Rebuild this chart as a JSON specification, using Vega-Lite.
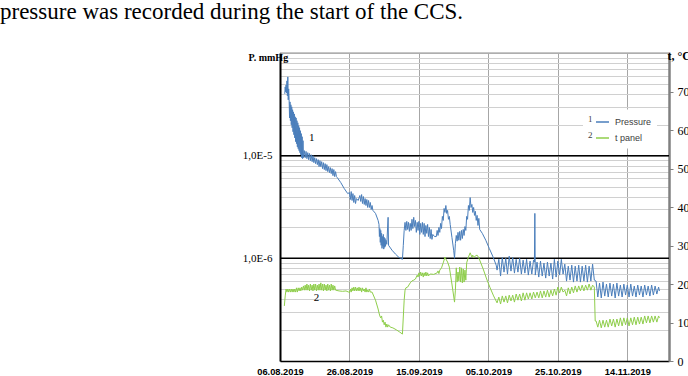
{
  "$schema": "https://vega.github.io/schema/vega-lite/v6.json",
  "width": 389,
  "height": 308,
  "autosize": {"type": "none"},
  "padding": {"left": 280, "top": 53, "right": 19, "bottom": 15},
  "background": "white",
  "title": {
    "text": "pressure was recorded during the start of the CCS.",
    "anchor": "start",
    "frame": "group",
    "dx": -280,
    "offset": 5,
    "baseline": "alphabetic",
    "font": "Liberation Serif",
    "fontSize": 23,
    "fontWeight": "normal",
    "color": "#000000"
  },
  "config": {"view": {"stroke": null}},
  "datasets": {
    "press": [
      {"t":"2019-08-07T09:00","v":4.00e-5},{"t":"2019-08-07T12:00","v":4.67e-5},{"t":"2019-08-07T15:00","v":4.19e-5},{"t":"2019-08-07T18:00","v":4.89e-5},{"t":"2019-08-07T21:00","v":4.09e-5},
      {"t":"2019-08-08T00:00","v":5.35e-5},{"t":"2019-08-08T03:00","v":3.83e-5},{"t":"2019-08-08T06:00","v":5.85e-5},{"t":"2019-08-08T09:00","v":3.50e-5},{"t":"2019-08-08T12:00","v":4.47e-5},
      {"t":"2019-08-08T15:00","v":3.50e-5},{"t":"2019-08-08T18:00","v":2.33e-5},{"t":"2019-08-08T21:00","v":3.34e-5},
      {"t":"2019-08-09T00:00","v":2.19e-5},{"t":"2019-08-09T03:00","v":3.13e-5},{"t":"2019-08-09T06:00","v":2.00e-5},{"t":"2019-08-09T09:00","v":2.99e-5},{"t":"2019-08-09T12:00","v":1.87e-5},{"t":"2019-08-09T15:00","v":2.80e-5},{"t":"2019-08-09T18:00","v":1.71e-5},{"t":"2019-08-09T21:00","v":2.67e-5},
      {"t":"2019-08-10T00:00","v":1.60e-5},{"t":"2019-08-10T03:00","v":2.55e-5},{"t":"2019-08-10T06:00","v":1.49e-5},{"t":"2019-08-10T09:00","v":2.39e-5},{"t":"2019-08-10T12:00","v":1.37e-5},{"t":"2019-08-10T15:00","v":2.33e-5},{"t":"2019-08-10T18:00","v":1.31e-5},{"t":"2019-08-10T21:00","v":2.19e-5},
      {"t":"2019-08-11T00:00","v":1.22e-5},{"t":"2019-08-11T03:00","v":2.09e-5},{"t":"2019-08-11T06:00","v":1.17e-5},{"t":"2019-08-11T09:00","v":1.96e-5},{"t":"2019-08-11T12:00","v":1.12e-5},{"t":"2019-08-11T15:00","v":1.87e-5},{"t":"2019-08-11T18:00","v":1.07e-5},{"t":"2019-08-11T21:00","v":1.75e-5},
      {"t":"2019-08-12T00:00","v":1.02e-5},{"t":"2019-08-12T03:00","v":1.64e-5},{"t":"2019-08-12T06:00","v":9.56e-6},{"t":"2019-08-12T09:00","v":1.53e-5},{"t":"2019-08-12T12:00","v":9.35e-6},{"t":"2019-08-12T15:00","v":1.40e-5},{"t":"2019-08-12T18:00","v":9.56e-6},
      {"t":"2019-08-13T00:00","v":1.12e-5},{"t":"2019-08-13T06:00","v":9.56e-6},{"t":"2019-08-13T12:00","v":1.10e-5},{"t":"2019-08-13T18:00","v":9.35e-6},
      {"t":"2019-08-14T00:00","v":1.07e-5},{"t":"2019-08-14T06:00","v":9.14e-6},{"t":"2019-08-14T12:00","v":1.05e-5},{"t":"2019-08-14T18:00","v":8.94e-6},
      {"t":"2019-08-15T00:00","v":1.02e-5},{"t":"2019-08-15T06:00","v":8.74e-6},{"t":"2019-08-15T12:00","v":1.00e-5},{"t":"2019-08-15T18:00","v":8.55e-6},
      {"t":"2019-08-16T00:00","v":9.56e-6},{"t":"2019-08-16T06:00","v":8.36e-6},{"t":"2019-08-16T12:00","v":9.35e-6},{"t":"2019-08-16T18:00","v":8.18e-6},
      {"t":"2019-08-17T00:00","v":9.14e-6},{"t":"2019-08-17T06:00","v":7.82e-6},{"t":"2019-08-17T12:00","v":8.94e-6},{"t":"2019-08-17T18:00","v":7.82e-6},
      {"t":"2019-08-18T00:00","v":8.74e-6},{"t":"2019-08-18T06:00","v":7.48e-6},{"t":"2019-08-18T12:00","v":8.55e-6},{"t":"2019-08-18T18:00","v":7.32e-6},
      {"t":"2019-08-19T00:00","v":8.36e-6},{"t":"2019-08-19T06:00","v":7.15e-6},{"t":"2019-08-19T12:00","v":8.18e-6},{"t":"2019-08-19T18:00","v":6.99e-6},
      {"t":"2019-08-20T00:00","v":7.82e-6},{"t":"2019-08-20T06:00","v":6.84e-6},{"t":"2019-08-20T12:00","v":7.65e-6},{"t":"2019-08-20T18:00","v":6.69e-6},
      {"t":"2019-08-21T00:00","v":7.48e-6},{"t":"2019-08-21T06:00","v":6.39e-6},{"t":"2019-08-21T12:00","v":7.32e-6},{"t":"2019-08-21T18:00","v":6.25e-6},
      {"t":"2019-08-22T00:00","v":6.99e-6},{"t":"2019-08-22T06:00","v":6.25e-6},{"t":"2019-08-22T12:00","v":6.11e-6},
      {"t":"2019-08-23T12:00","v":5.47e-6},{"t":"2019-08-24T12:00","v":4.78e-6},{"t":"2019-08-25T12:00","v":4.27e-6},
      {"t":"2019-08-26T00:00","v":4.37e-6},{"t":"2019-08-26T06:00","v":3.74e-6},{"t":"2019-08-26T12:00","v":4.47e-6},{"t":"2019-08-26T18:00","v":3.66e-6},
      {"t":"2019-08-27T00:00","v":4.27e-6},{"t":"2019-08-27T06:00","v":3.50e-6},{"t":"2019-08-27T12:00","v":4.09e-6},{"t":"2019-08-27T18:00","v":3.42e-6},
      {"t":"2019-08-28T00:00","v":3.82e-6},{"t":"2019-08-28T12:00","v":3.66e-6},
      {"t":"2019-08-29T00:00","v":4.09e-6},{"t":"2019-08-29T06:00","v":3.58e-6},{"t":"2019-08-29T12:00","v":4.18e-6},{"t":"2019-08-29T18:00","v":3.42e-6},
      {"t":"2019-08-30T00:00","v":4.00e-6},{"t":"2019-08-30T06:00","v":3.35e-6},{"t":"2019-08-30T12:00","v":3.82e-6},{"t":"2019-08-30T18:00","v":3.27e-6},
      {"t":"2019-08-31T00:00","v":3.74e-6},{"t":"2019-08-31T06:00","v":3.13e-6},{"t":"2019-08-31T12:00","v":3.66e-6},{"t":"2019-08-31T18:00","v":3.13e-6},
      {"t":"2019-09-01T00:00","v":3.50e-6},{"t":"2019-09-01T06:00","v":2.99e-6},{"t":"2019-09-01T12:00","v":3.27e-6},{"t":"2019-09-01T18:00","v":2.93e-6},
      {"t":"2019-09-02T12:00","v":2.74e-6},{"t":"2019-09-03T06:00","v":2.34e-6},
      {"t":"2019-09-03T12:00","v":2.14e-6},{"t":"2019-09-03T15:00","v":1.63e-6},{"t":"2019-09-03T18:00","v":1.95e-6},{"t":"2019-09-03T21:00","v":1.43e-6},
      {"t":"2019-09-04T00:00","v":1.87e-6},{"t":"2019-09-04T03:00","v":1.34e-6},{"t":"2019-09-04T06:00","v":1.75e-6},{"t":"2019-09-04T09:00","v":1.25e-6},{"t":"2019-09-04T12:00","v":1.63e-6},{"t":"2019-09-04T15:00","v":1.31e-6},{"t":"2019-09-04T18:00","v":1.71e-6},{"t":"2019-09-04T21:00","v":1.23e-6},
      {"t":"2019-09-05T00:00","v":1.60e-6},{"t":"2019-09-05T03:00","v":1.28e-6},{"t":"2019-09-05T06:00","v":1.56e-6},{"t":"2019-09-05T09:00","v":1.31e-6},{"t":"2019-09-05T12:00","v":1.50e-6},{"t":"2019-09-05T18:00","v":1.37e-6},
      {"t":"2019-09-06T03:00","v":2.51e-6},{"t":"2019-09-06T06:00","v":1.34e-6},
      {"t":"2019-09-07T06:00","v":1.20e-6},{"t":"2019-09-08T06:00","v":1.10e-6},{"t":"2019-09-09T06:00","v":1.02e-6},{"t":"2019-09-09T18:00","v":1.00e-6},{"t":"2019-09-10T06:00","v":9.78e-7},
      {"t":"2019-09-10T12:00","v":1.34e-6},{"t":"2019-09-10T18:00","v":1.87e-6},
      {"t":"2019-09-11T00:00","v":2.24e-6},{"t":"2019-09-11T06:00","v":1.87e-6},{"t":"2019-09-11T12:00","v":2.29e-6},{"t":"2019-09-11T18:00","v":1.91e-6},
      {"t":"2019-09-12T00:00","v":2.24e-6},{"t":"2019-09-12T06:00","v":1.83e-6},{"t":"2019-09-12T12:00","v":2.19e-6},{"t":"2019-09-12T18:00","v":1.87e-6},
      {"t":"2019-09-13T00:00","v":2.40e-6},{"t":"2019-09-13T06:00","v":1.95e-6},{"t":"2019-09-13T12:00","v":2.51e-6},{"t":"2019-09-13T18:00","v":2.04e-6},
      {"t":"2019-09-14T00:00","v":2.34e-6},{"t":"2019-09-14T06:00","v":1.79e-6},{"t":"2019-09-14T12:00","v":2.24e-6},{"t":"2019-09-14T18:00","v":1.87e-6},
      {"t":"2019-09-15T00:00","v":2.29e-6},{"t":"2019-09-15T06:00","v":1.71e-6},{"t":"2019-09-15T12:00","v":2.19e-6},{"t":"2019-09-15T18:00","v":1.79e-6},
      {"t":"2019-09-16T00:00","v":2.24e-6},{"t":"2019-09-16T06:00","v":1.71e-6},{"t":"2019-09-16T12:00","v":2.19e-6},{"t":"2019-09-16T18:00","v":1.63e-6},
      {"t":"2019-09-17T00:00","v":2.09e-6},{"t":"2019-09-17T06:00","v":1.75e-6},{"t":"2019-09-17T12:00","v":2.14e-6},{"t":"2019-09-17T18:00","v":1.63e-6},
      {"t":"2019-09-18T00:00","v":2.00e-6},{"t":"2019-09-18T06:00","v":1.56e-6},{"t":"2019-09-18T12:00","v":1.91e-6},{"t":"2019-09-18T18:00","v":1.53e-6},
      {"t":"2019-09-19T00:00","v":1.71e-6},{"t":"2019-09-19T12:00","v":1.63e-6},
      {"t":"2019-09-20T00:00","v":1.63e-6},{"t":"2019-09-20T06:00","v":1.87e-6},{"t":"2019-09-20T12:00","v":1.67e-6},{"t":"2019-09-20T18:00","v":2.00e-6},
      {"t":"2019-09-21T00:00","v":1.79e-6},{"t":"2019-09-21T06:00","v":2.19e-6},{"t":"2019-09-21T12:00","v":1.95e-6},{"t":"2019-09-21T18:00","v":2.56e-6},
      {"t":"2019-09-22T00:00","v":2.34e-6},{"t":"2019-09-22T06:00","v":3.06e-6},{"t":"2019-09-22T12:00","v":2.80e-6},{"t":"2019-09-22T18:00","v":3.27e-6},
      {"t":"2019-09-23T00:00","v":2.74e-6},{"t":"2019-09-23T06:00","v":2.93e-6},{"t":"2019-09-23T12:00","v":2.40e-6},{"t":"2019-09-23T18:00","v":2.56e-6},
      {"t":"2019-09-24T00:00","v":2.14e-6},{"t":"2019-09-24T12:00","v":1.60e-6},
      {"t":"2019-09-25T00:00","v":1.20e-6},{"t":"2019-09-25T06:00","v":1.00e-6},{"t":"2019-09-25T12:00","v":1.40e-6},{"t":"2019-09-25T18:00","v":1.67e-6},
      {"t":"2019-09-26T00:00","v":1.47e-6},{"t":"2019-09-26T06:00","v":1.79e-6},{"t":"2019-09-26T12:00","v":1.50e-6},{"t":"2019-09-26T18:00","v":1.83e-6},
      {"t":"2019-09-27T00:00","v":1.50e-6},{"t":"2019-09-27T06:00","v":1.87e-6},{"t":"2019-09-27T12:00","v":1.56e-6},{"t":"2019-09-27T18:00","v":1.91e-6},
      {"t":"2019-09-28T00:00","v":1.67e-6},{"t":"2019-09-28T06:00","v":2.04e-6},{"t":"2019-09-28T12:00","v":1.87e-6},{"t":"2019-09-28T18:00","v":2.56e-6},
      {"t":"2019-09-29T00:00","v":2.40e-6},{"t":"2019-09-29T06:00","v":3.27e-6},{"t":"2019-09-29T12:00","v":2.93e-6},{"t":"2019-09-29T18:00","v":3.91e-6},
      {"t":"2019-09-30T00:00","v":3.13e-6},{"t":"2019-09-30T06:00","v":3.35e-6},{"t":"2019-09-30T12:00","v":2.80e-6},{"t":"2019-09-30T18:00","v":3.13e-6},
      {"t":"2019-10-01T00:00","v":2.62e-6},{"t":"2019-10-01T06:00","v":2.87e-6},{"t":"2019-10-01T12:00","v":2.34e-6},{"t":"2019-10-01T18:00","v":2.62e-6},
      {"t":"2019-10-02T00:00","v":2.09e-6},{"t":"2019-10-02T06:00","v":2.45e-6},{"t":"2019-10-02T12:00","v":1.91e-6},
      {"t":"2019-10-03T06:00","v":1.75e-6},{"t":"2019-10-04T06:00","v":1.50e-6},{"t":"2019-10-05T06:00","v":1.25e-6},{"t":"2019-10-06T06:00","v":1.05e-6},{"t":"2019-10-07T06:00","v":8.58e-7},{"t":"2019-10-07T12:00","v":7.68e-7},
      {"t":"2019-10-08T00:00","v":9.78e-7},{"t":"2019-10-08T12:00","v":6.72e-7},
      {"t":"2019-10-09T00:00","v":1.02e-6},{"t":"2019-10-09T12:00","v":7.34e-7},
      {"t":"2019-10-10T00:00","v":1.00e-6},{"t":"2019-10-10T12:00","v":7.02e-7},
      {"t":"2019-10-11T00:00","v":1.05e-6},{"t":"2019-10-11T12:00","v":7.51e-7},
      {"t":"2019-10-12T00:00","v":1.02e-6},{"t":"2019-10-12T12:00","v":7.18e-7},
      {"t":"2019-10-13T00:00","v":9.78e-7},{"t":"2019-10-13T12:00","v":7.34e-7},
      {"t":"2019-10-14T00:00","v":1.00e-6},{"t":"2019-10-14T12:00","v":7.02e-7},
      {"t":"2019-10-15T00:00","v":9.60e-7},{"t":"2019-10-15T12:00","v":7.18e-7},
      {"t":"2019-10-16T00:00","v":9.78e-7},{"t":"2019-10-16T12:00","v":6.87e-7},
      {"t":"2019-10-17T00:00","v":9.39e-7},{"t":"2019-10-17T12:00","v":7.02e-7},
      {"t":"2019-10-18T00:00","v":9.60e-7},{"t":"2019-10-18T06:00","v":9.18e-7},{"t":"2019-10-18T09:00","v":2.74e-6},{"t":"2019-10-18T12:00","v":6.87e-7},
      {"t":"2019-10-19T00:00","v":9.18e-7},{"t":"2019-10-19T12:00","v":6.57e-7},
      {"t":"2019-10-20T00:00","v":9.39e-7},{"t":"2019-10-20T12:00","v":6.72e-7},
      {"t":"2019-10-21T00:00","v":8.98e-7},{"t":"2019-10-21T12:00","v":6.42e-7},
      {"t":"2019-10-22T00:00","v":9.18e-7},{"t":"2019-10-22T12:00","v":6.72e-7},
      {"t":"2019-10-23T00:00","v":8.98e-7},{"t":"2019-10-23T12:00","v":6.28e-7},
      {"t":"2019-10-24T00:00","v":9.78e-7},{"t":"2019-10-24T12:00","v":6.57e-7},
      {"t":"2019-10-25T00:00","v":9.39e-7},{"t":"2019-10-25T12:00","v":6.87e-7},
      {"t":"2019-10-26T00:00","v":9.78e-7},{"t":"2019-10-26T12:00","v":7.02e-7},
      {"t":"2019-10-27T00:00","v":8.78e-7},{"t":"2019-10-27T12:00","v":6.00e-7},
      {"t":"2019-10-28T00:00","v":8.39e-7},{"t":"2019-10-28T12:00","v":6.14e-7},
      {"t":"2019-10-29T00:00","v":8.58e-7},{"t":"2019-10-29T12:00","v":5.87e-7},
      {"t":"2019-10-30T00:00","v":8.39e-7},{"t":"2019-10-30T12:00","v":6.00e-7},
      {"t":"2019-10-31T00:00","v":8.58e-7},{"t":"2019-10-31T12:00","v":5.87e-7},
      {"t":"2019-11-01T00:00","v":8.39e-7},{"t":"2019-11-01T12:00","v":6.00e-7},
      {"t":"2019-11-02T00:00","v":8.58e-7},{"t":"2019-11-02T12:00","v":5.87e-7},
      {"t":"2019-11-03T00:00","v":8.39e-7},{"t":"2019-11-03T12:00","v":6.00e-7},
      {"t":"2019-11-04T00:00","v":8.78e-7},{"t":"2019-11-04T12:00","v":6.14e-7},
      {"t":"2019-11-05T00:00","v":6.00e-7},{"t":"2019-11-05T12:00","v":4.20e-7},
      {"t":"2019-11-06T00:00","v":5.74e-7},{"t":"2019-11-06T12:00","v":4.11e-7},
      {"t":"2019-11-07T00:00","v":5.87e-7},{"t":"2019-11-07T12:00","v":4.29e-7},
      {"t":"2019-11-08T00:00","v":5.61e-7},{"t":"2019-11-08T12:00","v":4.20e-7},
      {"t":"2019-11-09T00:00","v":5.74e-7},{"t":"2019-11-09T12:00","v":4.29e-7},
      {"t":"2019-11-10T00:00","v":5.61e-7},{"t":"2019-11-10T12:00","v":4.11e-7},
      {"t":"2019-11-11T00:00","v":5.74e-7},{"t":"2019-11-11T12:00","v":4.29e-7},
      {"t":"2019-11-12T00:00","v":5.49e-7},{"t":"2019-11-12T12:00","v":4.20e-7},
      {"t":"2019-11-13T00:00","v":5.61e-7},{"t":"2019-11-13T12:00","v":4.39e-7},
      {"t":"2019-11-14T00:00","v":5.49e-7},{"t":"2019-11-14T12:00","v":4.20e-7},
      {"t":"2019-11-15T00:00","v":5.61e-7},{"t":"2019-11-15T12:00","v":4.29e-7},
      {"t":"2019-11-16T00:00","v":5.37e-7},{"t":"2019-11-16T12:00","v":4.20e-7},
      {"t":"2019-11-17T00:00","v":5.49e-7},{"t":"2019-11-17T12:00","v":4.39e-7},
      {"t":"2019-11-18T00:00","v":5.37e-7},{"t":"2019-11-18T12:00","v":4.20e-7},
      {"t":"2019-11-19T00:00","v":5.49e-7},{"t":"2019-11-19T12:00","v":4.39e-7},
      {"t":"2019-11-20T00:00","v":5.37e-7},{"t":"2019-11-20T12:00","v":4.29e-7},
      {"t":"2019-11-21T00:00","v":5.49e-7},{"t":"2019-11-21T12:00","v":4.39e-7},
      {"t":"2019-11-22T00:00","v":5.37e-7},{"t":"2019-11-22T12:00","v":4.49e-7},
      {"t":"2019-11-23T00:00","v":5.25e-7},{"t":"2019-11-23T06:00","v":4.80e-7}
    ],
    "temp": [
      {"t":"2019-08-07T06:00","v":14.3},{"t":"2019-08-07T12:00","v":16.9},{"t":"2019-08-07T18:00","v":18.7},
      {"t":"2019-08-08T00:00","v":17.9},{"t":"2019-08-08T06:00","v":18.7},{"t":"2019-08-08T12:00","v":17.9},{"t":"2019-08-08T18:00","v":18.7},
      {"t":"2019-08-09T00:00","v":17.9},{"t":"2019-08-09T06:00","v":18.7},{"t":"2019-08-09T12:00","v":17.9},{"t":"2019-08-09T18:00","v":18.7},
      {"t":"2019-08-10T00:00","v":17.9},{"t":"2019-08-10T06:00","v":18.7},{"t":"2019-08-10T12:00","v":17.9},{"t":"2019-08-10T18:00","v":19.0},
      {"t":"2019-08-11T00:00","v":17.9},{"t":"2019-08-11T06:00","v":19.0},{"t":"2019-08-11T12:00","v":18.2},{"t":"2019-08-11T18:00","v":19.0},
      {"t":"2019-08-12T00:00","v":18.2},{"t":"2019-08-12T06:00","v":19.2},{"t":"2019-08-12T12:00","v":18.4},{"t":"2019-08-12T18:00","v":19.5},
      {"t":"2019-08-13T00:00","v":18.4},{"t":"2019-08-13T06:00","v":19.7},{"t":"2019-08-13T12:00","v":18.4},{"t":"2019-08-13T18:00","v":20.0},
      {"t":"2019-08-14T00:00","v":18.4},{"t":"2019-08-14T06:00","v":19.7},{"t":"2019-08-14T12:00","v":18.2},{"t":"2019-08-14T18:00","v":20.0},
      {"t":"2019-08-15T00:00","v":18.4},{"t":"2019-08-15T06:00","v":19.7},{"t":"2019-08-15T12:00","v":18.2},{"t":"2019-08-15T18:00","v":20.0},
      {"t":"2019-08-16T00:00","v":18.4},{"t":"2019-08-16T06:00","v":20.0},{"t":"2019-08-16T12:00","v":18.2},{"t":"2019-08-16T18:00","v":19.7},
      {"t":"2019-08-17T00:00","v":18.4},{"t":"2019-08-17T06:00","v":20.0},{"t":"2019-08-17T12:00","v":18.4},{"t":"2019-08-17T18:00","v":20.3},
      {"t":"2019-08-18T00:00","v":18.4},{"t":"2019-08-18T06:00","v":20.0},{"t":"2019-08-18T12:00","v":18.2},{"t":"2019-08-18T18:00","v":20.0},
      {"t":"2019-08-19T00:00","v":18.4},{"t":"2019-08-19T06:00","v":19.7},{"t":"2019-08-19T12:00","v":18.2},{"t":"2019-08-19T18:00","v":20.0},
      {"t":"2019-08-20T00:00","v":18.4},{"t":"2019-08-20T06:00","v":19.7},{"t":"2019-08-20T12:00","v":18.2},{"t":"2019-08-20T18:00","v":20.0},
      {"t":"2019-08-21T00:00","v":18.4},{"t":"2019-08-21T06:00","v":19.7},{"t":"2019-08-21T12:00","v":18.4},{"t":"2019-08-21T18:00","v":19.5},
      {"t":"2019-08-22T00:00","v":18.4},{"t":"2019-08-23T00:00","v":18.2},{"t":"2019-08-24T00:00","v":18.1},{"t":"2019-08-25T00:00","v":18.2},{"t":"2019-08-25T18:00","v":17.9},
      {"t":"2019-08-26T00:00","v":17.7},{"t":"2019-08-26T06:00","v":18.7},{"t":"2019-08-26T12:00","v":17.9},{"t":"2019-08-26T18:00","v":19.0},
      {"t":"2019-08-27T00:00","v":18.2},{"t":"2019-08-27T06:00","v":19.2},{"t":"2019-08-27T12:00","v":18.2},{"t":"2019-08-27T18:00","v":19.2},
      {"t":"2019-08-28T00:00","v":18.2},{"t":"2019-08-28T06:00","v":19.0},{"t":"2019-08-28T12:00","v":18.2},{"t":"2019-08-28T18:00","v":19.2},
      {"t":"2019-08-29T00:00","v":18.2},{"t":"2019-08-29T06:00","v":19.0},{"t":"2019-08-29T12:00","v":17.9},{"t":"2019-08-29T18:00","v":19.0},
      {"t":"2019-08-30T00:00","v":18.2},{"t":"2019-08-30T06:00","v":18.7},{"t":"2019-08-30T12:00","v":17.9},{"t":"2019-08-30T18:00","v":19.0},
      {"t":"2019-08-31T00:00","v":17.9},{"t":"2019-08-31T06:00","v":18.4},{"t":"2019-08-31T12:00","v":17.9},{"t":"2019-08-31T18:00","v":18.7},
      {"t":"2019-09-01T00:00","v":17.9},{"t":"2019-09-01T12:00","v":17.9},
      {"t":"2019-09-02T12:00","v":15.8},{"t":"2019-09-03T06:00","v":13.5},{"t":"2019-09-03T12:00","v":12.5},{"t":"2019-09-03T18:00","v":11.7},
      {"t":"2019-09-04T00:00","v":11.2},{"t":"2019-09-04T06:00","v":11.7},{"t":"2019-09-04T12:00","v":10.1},{"t":"2019-09-04T18:00","v":10.6},
      {"t":"2019-09-05T00:00","v":9.4},{"t":"2019-09-05T06:00","v":10.1},{"t":"2019-09-05T12:00","v":8.8},{"t":"2019-09-05T18:00","v":9.6},
      {"t":"2019-09-06T00:00","v":8.8},{"t":"2019-09-06T06:00","v":9.4},{"t":"2019-09-06T18:00","v":8.8},
      {"t":"2019-09-07T12:00","v":8.6},{"t":"2019-09-08T12:00","v":8.1},{"t":"2019-09-09T12:00","v":7.5},{"t":"2019-09-10T06:00","v":7.0},{"t":"2019-09-10T18:00","v":15.8},
      {"t":"2019-09-11T00:00","v":18.4},{"t":"2019-09-11T06:00","v":19.0},{"t":"2019-09-11T18:00","v":19.2},{"t":"2019-09-12T12:00","v":20.3},
      {"t":"2019-09-13T00:00","v":20.8},{"t":"2019-09-13T12:00","v":21.0},{"t":"2019-09-14T00:00","v":21.3},{"t":"2019-09-14T06:00","v":21.8},{"t":"2019-09-14T12:00","v":22.3},{"t":"2019-09-14T18:00","v":21.8},
      {"t":"2019-09-15T00:00","v":22.9},{"t":"2019-09-15T06:00","v":22.1},{"t":"2019-09-15T12:00","v":23.1},{"t":"2019-09-15T18:00","v":22.1},
      {"t":"2019-09-16T00:00","v":22.9},{"t":"2019-09-16T06:00","v":21.8},{"t":"2019-09-16T12:00","v":22.9},{"t":"2019-09-16T18:00","v":22.1},
      {"t":"2019-09-17T00:00","v":23.1},{"t":"2019-09-17T06:00","v":22.1},{"t":"2019-09-17T12:00","v":22.9},{"t":"2019-09-17T18:00","v":22.1},
      {"t":"2019-09-18T06:00","v":22.6},{"t":"2019-09-19T06:00","v":22.5},{"t":"2019-09-20T06:00","v":22.9},{"t":"2019-09-20T12:00","v":23.4},{"t":"2019-09-20T18:00","v":22.7},
      {"t":"2019-09-21T00:00","v":23.6},{"t":"2019-09-21T12:00","v":24.2},{"t":"2019-09-22T00:00","v":25.5},{"t":"2019-09-22T12:00","v":27.0},{"t":"2019-09-22T18:00","v":26.5},
      {"t":"2019-09-23T06:00","v":25.7},{"t":"2019-09-23T18:00","v":24.4},{"t":"2019-09-24T12:00","v":20.0},{"t":"2019-09-25T06:00","v":15.3},{"t":"2019-09-25T12:00","v":18.4},{"t":"2019-09-25T18:00","v":24.2},
      {"t":"2019-09-26T00:00","v":20.5},{"t":"2019-09-26T06:00","v":23.1},{"t":"2019-09-26T12:00","v":20.8},{"t":"2019-09-26T18:00","v":24.4},
      {"t":"2019-09-27T00:00","v":20.5},{"t":"2019-09-27T06:00","v":24.2},{"t":"2019-09-27T12:00","v":20.3},{"t":"2019-09-27T18:00","v":23.9},
      {"t":"2019-09-28T00:00","v":20.5},{"t":"2019-09-28T06:00","v":23.6},{"t":"2019-09-28T12:00","v":21.0},{"t":"2019-09-28T18:00","v":25.5},
      {"t":"2019-09-29T06:00","v":27.0},{"t":"2019-09-29T18:00","v":28.1},{"t":"2019-09-30T06:00","v":27.0},{"t":"2019-09-30T12:00","v":27.5},{"t":"2019-09-30T18:00","v":26.8},
      {"t":"2019-10-01T06:00","v":27.3},{"t":"2019-10-01T18:00","v":27.5},{"t":"2019-10-02T06:00","v":26.8},{"t":"2019-10-02T12:00","v":26.2},
      {"t":"2019-10-03T12:00","v":23.9},{"t":"2019-10-04T12:00","v":21.3},{"t":"2019-10-05T12:00","v":19.0},{"t":"2019-10-06T12:00","v":16.9},{"t":"2019-10-07T12:00","v":15.1},
      {"t":"2019-10-08T00:00","v":16.6},{"t":"2019-10-08T12:00","v":14.8},
      {"t":"2019-10-09T00:00","v":16.9},{"t":"2019-10-09T12:00","v":15.3},
      {"t":"2019-10-10T00:00","v":16.9},{"t":"2019-10-10T12:00","v":15.1},
      {"t":"2019-10-11T00:00","v":17.1},{"t":"2019-10-11T12:00","v":15.6},
      {"t":"2019-10-12T00:00","v":17.1},{"t":"2019-10-12T12:00","v":15.3},
      {"t":"2019-10-13T00:00","v":17.4},{"t":"2019-10-13T12:00","v":15.8},
      {"t":"2019-10-14T00:00","v":17.4},{"t":"2019-10-14T12:00","v":15.6},
      {"t":"2019-10-15T00:00","v":17.7},{"t":"2019-10-15T12:00","v":15.8},
      {"t":"2019-10-16T00:00","v":17.7},{"t":"2019-10-16T12:00","v":16.1},
      {"t":"2019-10-17T00:00","v":17.7},{"t":"2019-10-17T12:00","v":16.1},
      {"t":"2019-10-18T00:00","v":17.9},{"t":"2019-10-18T12:00","v":16.4},
      {"t":"2019-10-19T00:00","v":17.9},{"t":"2019-10-19T12:00","v":16.4},
      {"t":"2019-10-20T00:00","v":18.2},{"t":"2019-10-20T12:00","v":16.4},
      {"t":"2019-10-21T00:00","v":18.2},{"t":"2019-10-21T12:00","v":16.6},
      {"t":"2019-10-22T00:00","v":18.4},{"t":"2019-10-22T12:00","v":16.6},
      {"t":"2019-10-23T00:00","v":18.4},{"t":"2019-10-23T12:00","v":16.9},
      {"t":"2019-10-24T00:00","v":18.7},{"t":"2019-10-24T12:00","v":17.1},
      {"t":"2019-10-25T00:00","v":19.2},{"t":"2019-10-25T12:00","v":17.7},
      {"t":"2019-10-26T00:00","v":19.2},{"t":"2019-10-26T12:00","v":17.9},
      {"t":"2019-10-27T00:00","v":18.4},{"t":"2019-10-27T12:00","v":16.9},
      {"t":"2019-10-28T00:00","v":19.0},{"t":"2019-10-28T12:00","v":17.4},
      {"t":"2019-10-29T00:00","v":19.2},{"t":"2019-10-29T12:00","v":17.7},
      {"t":"2019-10-30T00:00","v":19.5},{"t":"2019-10-30T12:00","v":17.9},
      {"t":"2019-10-31T00:00","v":19.5},{"t":"2019-10-31T12:00","v":18.2},
      {"t":"2019-11-01T00:00","v":19.7},{"t":"2019-11-01T12:00","v":18.2},
      {"t":"2019-11-02T00:00","v":19.7},{"t":"2019-11-02T12:00","v":18.4},
      {"t":"2019-11-03T00:00","v":20.0},{"t":"2019-11-03T12:00","v":18.4},
      {"t":"2019-11-04T00:00","v":19.7},{"t":"2019-11-04T12:00","v":19.2},{"t":"2019-11-04T18:00","v":10.4},
      {"t":"2019-11-05T00:00","v":10.4},{"t":"2019-11-05T12:00","v":8.8},
      {"t":"2019-11-06T00:00","v":10.6},{"t":"2019-11-06T12:00","v":8.6},
      {"t":"2019-11-07T00:00","v":10.6},{"t":"2019-11-07T12:00","v":8.8},
      {"t":"2019-11-08T00:00","v":10.6},{"t":"2019-11-08T12:00","v":8.8},
      {"t":"2019-11-09T00:00","v":10.9},{"t":"2019-11-09T12:00","v":9.1},
      {"t":"2019-11-10T00:00","v":10.9},{"t":"2019-11-10T12:00","v":8.8},
      {"t":"2019-11-11T00:00","v":10.9},{"t":"2019-11-11T12:00","v":9.1},
      {"t":"2019-11-12T00:00","v":11.2},{"t":"2019-11-12T12:00","v":9.1},
      {"t":"2019-11-13T00:00","v":11.2},{"t":"2019-11-13T12:00","v":9.4},
      {"t":"2019-11-14T00:00","v":11.2},{"t":"2019-11-14T12:00","v":9.1},
      {"t":"2019-11-15T00:00","v":11.2},{"t":"2019-11-15T12:00","v":9.4},
      {"t":"2019-11-16T00:00","v":11.4},{"t":"2019-11-16T12:00","v":9.4},
      {"t":"2019-11-17T00:00","v":11.4},{"t":"2019-11-17T12:00","v":9.6},
      {"t":"2019-11-18T00:00","v":11.4},{"t":"2019-11-18T12:00","v":9.6},
      {"t":"2019-11-19T00:00","v":11.7},{"t":"2019-11-19T12:00","v":9.9},
      {"t":"2019-11-20T00:00","v":11.7},{"t":"2019-11-20T12:00","v":9.9},
      {"t":"2019-11-21T00:00","v":11.7},{"t":"2019-11-21T12:00","v":10.1},
      {"t":"2019-11-22T00:00","v":11.7},{"t":"2019-11-22T12:00","v":10.1},
      {"t":"2019-11-23T00:00","v":11.7},{"t":"2019-11-23T06:00","v":11.2}
    ],
    "lab1": [{"t":"2019-08-15T03:00","v":1.48e-5,"label":"1"}],
    "lab2": [{"t":"2019-08-16T12:00","v":16.4,"label":"2"}],
    "decades": [{"v":1e-6},{"v":1e-5}],
    "topline": [{"v":1e-4}]
  },
  "layer": [
    {
      "data": {"name": "decades"},
      "mark": {"type": "rule", "color": "#000000", "strokeWidth": 1.5},
      "encoding": {"y": {"field": "v", "type": "quantitative", "scale": {"type": "log", "domain": [1e-7, 1e-4], "nice": false}, "axis": null}}
    },
    {
      "data": {"name": "topline"},
      "mark": {"type": "rule", "color": "#8c8c8c", "strokeWidth": 1},
      "encoding": {"y": {"field": "v", "type": "quantitative", "scale": {"type": "log", "domain": [1e-7, 1e-4], "nice": false}, "axis": null}}
    },
    {
      "data": {"name": "press"},
      "mark": {"type": "line", "strokeWidth": 1, "clip": true},
      "encoding": {
        "x": {
          "field": "t", "type": "temporal",
          "scale": {"domain": [1565049600000, 1574726400000]},
          "axis": {
            "values": [1565049600000, 1566777600000, 1568505600000, 1570233600000, 1571961600000, 1573689600000],
            "format": "%d.%m.%Y",
            "title": null,
            "labelFont": "Liberation Sans", "labelFontWeight": "bold", "labelFontSize": 9.3, "labelColor": "#000000",
            "labelPadding": 6, "labelFlush": false, "labelOverlap": false,
            "ticks": false,
            "grid": true, "gridColor": "#a6a6a6", "gridWidth": 1,
            "domain": true, "domainColor": "#000000", "domainWidth": 1.6
          }
        },
        "y": {
          "field": "v", "type": "quantitative",
          "scale": {"type": "log", "domain": [1e-7, 1e-4], "nice": false},
          "axis": {
            "orient": "left",
            "values": [1e-7, 2e-7, 3e-7, 4e-7, 5e-7, 6e-7, 7e-7, 8e-7, 9e-7, 1e-6, 2e-6, 3e-6, 4e-6, 5e-6, 6e-6, 7e-6, 8e-6, 9e-6, 1e-5, 2e-5, 3e-5, 4e-5, 5e-5, 6e-5, 7e-5, 8e-5, 9e-5, 1e-4],
            "labelExpr": "abs(datum.value - 1e-5) < 1e-7 ? '1,0E-5' : (abs(datum.value - 1e-6) < 1e-8 ? '1,0E-6' : '')",
            "labelOverlap": false,
            "labelFont": "Liberation Serif", "labelFontSize": 11, "labelColor": "#000000", "labelPadding": 8,
            "ticks": false,
            "grid": true, "gridColor": "#d0d0d0", "gridWidth": 1,
            "domain": true, "domainColor": "#000000", "domainWidth": 2,
            "title": "P. mmHg", "titleAngle": 0, "titleX": -32, "titleY": 4, "titleAlign": "left", "titleBaseline": "middle",
            "titleFont": "Liberation Serif", "titleFontSize": 10, "titleFontWeight": "bold", "titleColor": "#000000"
          }
        },
        "color": {
          "datum": "Pressure", "type": "nominal",
          "scale": {"domain": ["Pressure", "t panel"], "range": ["#4a7ebb", "#8fce4b"]},
          "legend": {
            "orient": "none", "legendX": 303, "legendY": 56.5,
            "title": ["1", "2"], "titleOrient": "left", "titleFont": "Liberation Serif", "titleFontSize": 9, "titleFontWeight": "normal", "titleColor": "#404040", "titleLineHeight": 16, "titleBaseline": "top", "titleAnchor": "start", "titlePadding": 2,
            "symbolType": "stroke", "symbolSize": 169, "symbolStrokeWidth": 1.5,
            "labelFont": "Liberation Sans", "labelFontSize": 9, "labelColor": "#404040", "labelOffset": 5,
            "rowPadding": 3, "padding": 5, "fillColor": "#ffffff"
          }
        }
      }
    },
    {
      "data": {"name": "lab1"},
      "mark": {"type": "text", "font": "Liberation Serif", "fontSize": 11, "color": "#000000", "align": "center", "baseline": "middle"},
      "encoding": {
        "x": {"field": "t", "type": "temporal"},
        "y": {"field": "v", "type": "quantitative", "scale": {"type": "log", "domain": [1e-7, 1e-4], "nice": false}, "axis": null},
        "text": {"field": "label"}
      }
    },
    {
      "data": {"name": "temp"},
      "mark": {"type": "line", "strokeWidth": 1, "clip": true},
      "encoding": {
        "x": {"field": "t", "type": "temporal"},
        "y": {
          "field": "v", "type": "quantitative",
          "scale": {"domain": [0, 80], "nice": false},
          "axis": {
            "orient": "right",
            "values": [0, 10, 20, 30, 40, 50, 60, 70],
            "grid": false,
            "ticks": true, "tickSize": 4, "tickColor": "#808080", "tickWidth": 1,
            "domain": true, "domainColor": "#808080", "domainWidth": 2.5,
            "labelFont": "Liberation Serif", "labelFontSize": 12, "labelColor": "#000000", "labelPadding": 4,
            "title": "t, °C", "titleAngle": 0, "titleX": -2, "titleY": 2, "titleAlign": "left", "titleBaseline": "middle",
            "titleFont": "Liberation Serif", "titleFontSize": 12, "titleFontWeight": "bold", "titleColor": "#000000"
          }
        },
        "color": {
          "datum": "t panel", "type": "nominal",
          "scale": {"domain": ["Pressure", "t panel"], "range": ["#4a7ebb", "#8fce4b"]}
        }
      }
    },
    {
      "data": {"name": "lab2"},
      "mark": {"type": "text", "font": "Liberation Serif", "fontSize": 11, "color": "#000000", "align": "center", "baseline": "middle"},
      "encoding": {
        "x": {"field": "t", "type": "temporal"},
        "y": {"field": "v", "type": "quantitative", "scale": {"domain": [0, 80], "nice": false}, "axis": null},
        "text": {"field": "label"}
      }
    }
  ],
  "resolve": {"scale": {"y": "independent"}}
}
